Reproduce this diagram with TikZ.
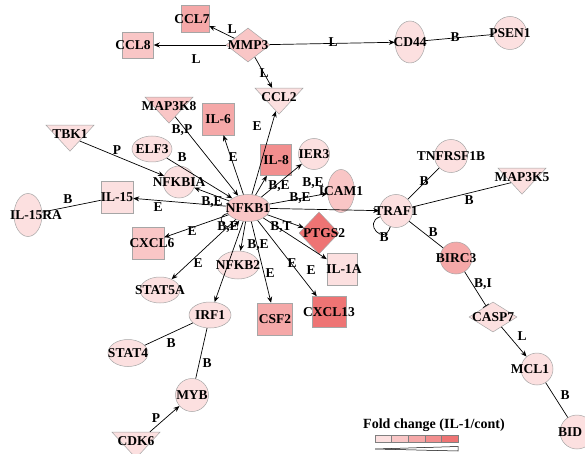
\documentclass[tikz,border=0pt]{standalone}
\usepackage{fontspec}
\setmainfont{Liberation Serif}
\usetikzlibrary{shapes.geometric, arrows.meta, positioning}
\definecolor{fcone}{HTML}{FCE0E0}
\definecolor{fctwo}{HTML}{F9C6C6}
\definecolor{fcthree}{HTML}{F5A8A8}
\definecolor{fcfour}{HTML}{F28E8E}
\definecolor{fcfive}{HTML}{EE7474}
\newcommand{\genefont}{\fontsize{13.5}{14}\selectfont\bfseries}
% gene label that may run over its shape, optional shift in pt
\newcommand{\gl}[2][0]{\makebox[0pt]{\kern#1pt\kern#1pt#2}}
% same, raised towards the flat side of a triangle
\newcommand{\tl}[1]{\raisebox{5pt}{\makebox[0pt]{#1}}}

\begin{document}
\begin{tikzpicture}[x=1pt, y=-1pt,
    gene/.style={draw=black!35, line width=0.5pt, inner sep=0pt, font=\genefont},
    sq/.style={gene, rectangle, minimum width=32pt, minimum height=32pt},
    ell/.style={gene, ellipse, minimum width=40pt, minimum height=26pt},
    circ/.style={gene, circle, minimum size=33pt},
    dia/.style={gene, diamond, minimum width=44pt, minimum height=34pt},
    tri/.style={gene, isosceles triangle, isosceles triangle stretches, shape border rotate=270, minimum width=48pt, minimum height=26pt},
    rel/.style={line width=0.7pt},
    act/.style={rel, -{Stealth[length=6pt, width=5pt]}},
    inh/.style={rel, -{Bar[width=7pt]}},
    elab/.style={font=\genefont, inner sep=0pt}
]
    \useasboundingbox (0,0) rectangle (585,454);

    % === MMP3 et ses cibles (haut) ===
    \node[sq, fill=fcthree, minimum width=28pt, minimum height=27pt] (ccl7) at (195,19) {\gl[-3]{CCL7}};
    \node[sq, fill=fctwo, minimum width=31pt, minimum height=26pt] (ccl8) at (138,45) {\gl[-5]{CCL8}};
    \node[dia, fill=fctwo] (mmp3) at (248,45) {\gl{MMP3}};
    \node[tri, fill=fcone] (ccl2) at (279,100) {\tl{CCL2}};
    \node[ell, fill=fcone, minimum width=30pt, minimum height=42pt] (cd44) at (410,42) {\gl{CD44}};
    \node[circ, fill=fcone] (psen1) at (510,33) {\gl{PSEN1}};

    % === autour de NFKB1 ===
    \node[ell, fill=fctwo, minimum width=44pt, minimum height=27pt] (nfkb1) at (248,208) {\gl{NFKB1}};
    \node[tri, fill=fctwo] (map3k8) at (169,109) {\tl{MAP3K8}};
    \node[sq, fill=fcthree] (il6) at (218,119) {\gl{IL-6}};
    \node[tri, fill=fcone] (tbk1) at (70,137) {\tl{TBK1}};
    \node[ell, fill=fcone] (elf3) at (152,149) {\gl{ELF3}};
    \node[circ, fill=fcone, minimum size=32pt] (nfkbia) at (179,182) {\gl{NFKBIA}};
    \node[sq, fill=fcone] (il15) at (117,197) {\gl{IL-15}};
    \node[ell, fill=fcone, minimum width=28pt, minimum height=43pt] (il15ra) at (28,215) {\gl[8]{IL-15RA}};
    \node[sq, fill=fctwo] (cxcl6) at (148,243) {\gl[4]{CXCL6}};
    \node[sq, fill=fcfour, minimum size=31pt] (il8) at (276,160) {\gl{IL-8}};
    \node[circ, fill=fcone, minimum size=31pt] (ier3) at (314,154) {\gl{IER3}};
    \node[ell, fill=fctwo, minimum width=27pt, minimum height=43pt] (icam1) at (341,191) {\gl{ICAM1}};
    \node[dia, fill=fcfive, minimum width=40pt, minimum height=42pt] (ptgs2) at (319,233) {\gl[5]{PTGS2}};
    \node[sq, fill=fcone, minimum width=30pt] (il1a) at (342,269) {\gl[2]{IL-1A}};
    \node[sq, fill=fcfive, minimum width=34pt, minimum height=31pt] (cxcl13) at (329,312) {\gl{CXCL13}};
    \node[sq, fill=fcthree, minimum width=35pt] (csf2) at (275,319) {\gl{CSF2}};
    \node[ell, fill=fcone, minimum width=42pt, minimum height=28pt] (nfkb2) at (238,265) {\gl{NFKB2}};
    \node[ell, fill=fcone] (stat5a) at (160,290) {\gl{STAT5A}};
    \node[ell, fill=fcone, minimum width=42pt] (irf1) at (210,315) {\gl{IRF1}};
    \node[ell, fill=fcone, minimum height=27pt] (stat4) at (128,353) {\gl{STAT4}};
    \node[circ, fill=fcone] (myb) at (192,395) {\gl{MYB}};
    \node[tri, fill=fcone] (cdk6) at (136,444) {\tl{CDK6}};

    % === autour de TRAF1 ===
    \node[circ, fill=fcone] (traf1) at (396,211) {\gl{TRAF1}};
    \node[circ, fill=fcone] (tnfrsf1b) at (451,156) {\gl{TNFRSF1B}};
    \node[tri, fill=fcone] (map3k5) at (522,180) {\tl{MAP3K5}};
    \node[circ, fill=fcthree, minimum size=32pt] (birc3) at (456,258) {\gl{BIRC3}};
    \node[dia, fill=fcone, minimum width=48pt, minimum height=30pt] (casp7) at (493,317) {\gl{CASP7}};
    \node[circ, fill=fcone, minimum size=32pt] (mcl1) at (537,369) {\gl[-7]{MCL1}};
    \node[circ, fill=fcone, minimum size=34pt] (bid) at (577,432) {\gl[-7]{BID}};

    % Relations MMP3
    \draw[act] (mmp3) -- (ccl7) node[elab] at (232,29) {L};
    \draw[act] (mmp3) -- (ccl8) node[elab] at (196,59) {L};
    \draw[act] (mmp3) -- (ccl2) node[elab] at (264,73) {L};
    \draw[act] (mmp3) -- (cd44) node[elab] at (333,42) {L};
    \draw[rel] (cd44) -- (psen1) node[elab] at (455,37) {B};

    % Relations vers NFKB1
    \draw[act] (map3k8) -- (nfkb1) node[elab] at (182,130) {B,P};
    \draw[act] (elf3) -- (nfkb1) node[elab] at (182,157) {B};
    \draw[act] (tbk1) -- (nfkbia) node[elab] at (117,150) {P};
    \draw[act, {Stealth[length=6pt, width=5pt]}-] (nfkbia) -- (nfkb1) node[elab] at (212,202) {B,E};
    \draw[rel] (il15ra) -- (il15) node[elab] at (68,199) {B};
    \draw[act] (nfkb1.195) .. controls +(-16,4) and +(-10,14) .. (nfkb1.235) node[elab] at (228,227) {B,E};

    % Relations depuis NFKB1
    \draw[act] (nfkb1) -- (ccl2) node[elab] at (257,126) {E};
    \draw[act] (nfkb1) -- (il6) node[elab] at (233,157) {E};
    \draw[act] (nfkb1) -- (il15) node[elab] at (158,207) {E};
    \draw[act] (nfkb1) -- (cxcl6) node[elab] at (192,231) {E};
    \draw[act] (nfkb1) -- (stat5a) node[elab] at (198,263) {E};
    \draw[act] (nfkb1) -- (irf1);
    \draw[act] (nfkb1) -- (nfkb2) node[elab] at (258,245) {B,E};
    \draw[act] (nfkb1) -- (csf2) node[elab] at (270,273) {E};
    \draw[act] (nfkb1) -- (cxcl13) node[elab] at (292,263) {E};
    \draw[act] (nfkb1) -- (il1a) node[elab] at (311,270) {E};
    \draw[act] (nfkb1) -- (ptgs2) node[elab] at (281,227) {B,T};
    \draw[act] (nfkb1) -- (il8) node[elab] at (279,186) {B,E};
    \draw[act] (nfkb1) -- (ier3) node[elab] at (313,183) {B,E};
    \draw[act] (nfkb1) -- (icam1) node[elab] at (300,198) {B,E};
    \draw[act] (nfkb1) -- (traf1);

    % Relations TRAF1
    \draw[rel] (traf1) -- (tnfrsf1b) node[elab] at (424,181) {B};
    \draw[rel] (traf1) -- (map3k5) node[elab] at (469,200) {B};
    \draw[rel] (traf1.200) .. controls +(-18,6) and +(-6,20) .. (traf1.250) node[elab] at (384,237) {B};
    \draw[rel] (traf1) -- (birc3) node[elab] at (433,232) {B};
    \draw[inh] (birc3) -- (casp7) node[elab] at (483,284) {B,I};
    \draw[act] (casp7) -- (mcl1) node[elab] at (522,336) {L};
    \draw[rel] (mcl1) -- (bid) node[elab] at (565,395) {B};

    % Relations IRF1 / MYB
    \draw[rel] (irf1) -- (stat4) node[elab] at (171,343) {B};
    \draw[rel] (irf1) -- (myb) node[elab] at (207,363) {B};
    \draw[act] (cdk6) -- (myb) node[elab] at (156,418) {P};

    % Légende
    \node[font=\fontsize{14}{15}\selectfont\bfseries] (legend) at (434,425) {Fold change (IL-1/cont)};
    \foreach \c [count=\i from 0] in {fcone,fctwo,fcthree,fcfour,fcfive}
        \filldraw[draw=black!50, fill=\c, line width=0.5pt] (375+\i*16.6,435) rectangle +(16.6,7);
    \draw[line width=0.5pt] (375,449) -- (458,446.5) -- (458,451) -- cycle;
\end{tikzpicture}
\end{document}
